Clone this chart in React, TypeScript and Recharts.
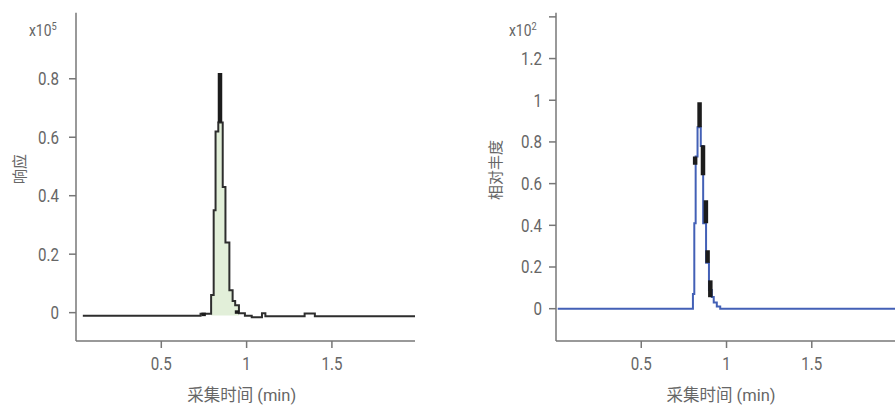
import React from 'react';
import { ComposedChart, Line, Area, XAxis, YAxis } from 'recharts';

// ---------- data ----------
const xTicks = [0.5, 1, 1.5];

// left panel: response (x10^5) vs acquisition time (min)
const leftTime = [0.04, 0.73, 0.77, 0.792, 0.807, 0.818, 0.834, 0.86, 0.876, 0.899, 0.918, 0.933, 0.955, 0.99, 1.03, 1.09, 1.11, 1.34, 1.40, 1.987];
const leftResponse = [-0.011, -0.004, -0.004, 0.06, 0.35, 0.62, 0.65, 0.43, 0.24, 0.077, 0.04, 0.025, -0.002, -0.011, -0.016, -0.002, -0.012, -0.003, -0.012, -0.012];
const leftMarkTime = [0.844, 0.748, 0.944];
const leftMarkLow = [0.65, -0.012, -0.004];
const leftMarkHigh = [0.82, 0.0, 0.008];
const leftYTicks = [0, 0.2, 0.4, 0.6, 0.8];

// right panel: relative abundance (x10^2) vs acquisition time (min)
const rightTime = [0.01, 0.803, 0.811, 0.819, 0.83, 0.849, 0.863, 0.88, 0.897, 0.914, 0.925, 0.943, 0.963, 1.988];
const rightAbundance = [0, 0.07, 0.41, 0.73, 0.87, 0.78, 0.41, 0.22, 0.09, 0.056, 0.03, 0.01, 0, 0];
const rightMarkTime = [0.842, 0.816, 0.862, 0.879, 0.889, 0.905];
const rightMarkLow = [0.87, 0.69, 0.64, 0.41, 0.22, 0.055];
const rightMarkHigh = [0.99, 0.73, 0.784, 0.52, 0.28, 0.136];
const rightYTicks = [0, 0.2, 0.4, 0.6, 0.8, 1, 1.2, 1.4];
const rightYTickLabels = ['0', '0.2', '0.4', '0.6', '0.8', '1', '1.2', ''];

// ---------- styles ----------
const NUM_FONT = "Roboto, 'Liberation Sans', sans-serif";
const CJK_FONT = "Roboto, 'Noto Sans CJK SC', sans-serif";
const TEXT = '#666666';
const AXIS = '#777777';
const SQUEEZE = 0.84;

const leftLine = leftTime.map((t, i) => ({ t, v: leftResponse[i] }));
const leftFill = leftLine.filter((d) => d.t >= 0.79 && d.t <= 0.956);
const rightLine = rightTime.map((t, i) => ({ t, v: rightAbundance[i] }));

const fmt = (v: number) => String(v);
const rightFmt = (v: number) => rightYTickLabels[rightYTicks.indexOf(v)] ?? '';

function makeTick(axis: 'x' | 'y', format: (v: number) => string) {
  return (props: any) => {
    const { x, y, payload } = props;
    const label = format(payload.value);
    return (
      <g transform={`translate(${x},${y}) scale(${SQUEEZE},1)`}>
        <text
          x={0}
          y={0}
          dy={axis === 'x' ? '0.71em' : '0.355em'}
          textAnchor={axis === 'x' ? 'middle' : 'end'}
          fontFamily={NUM_FONT}
          fontSize={18}
          fill={TEXT}
        >
          {label}
        </text>
      </g>
    );
  };
}

function marks(times: number[], lows: number[], highs: number[], prefix: string) {
  return times.map((t, i) => (
    <Line
      key={prefix + i}
      data={[{ t, v: lows[i] }, { t, v: highs[i] }]}
      dataKey="v"
      type="linear"
      stroke="#1c1c1c"
      strokeWidth={4.5}
      strokeLinecap="butt"
      dot={false}
      activeDot={false}
      isAnimationActive={false}
    />
  ));
}

export default function App() {
  return (
    <div style={{ position: 'absolute', left: 0, top: 0, width: 895, height: 407, background: '#fff', overflow: 'hidden' }}>
      <div style={{ position: 'absolute', left: 0, top: 0 }}>
        <ComposedChart width={430} height={407} margin={{ top: 12.7, right: 15, bottom: 0, left: 0 }}>
          <XAxis
            type="number"
            dataKey="t"
            domain={[0, 1.987]}
            ticks={xTicks}
            allowDataOverflow
            height={66}
            tickSize={7}
            tickMargin={9}
            tick={makeTick('x', fmt)}
            stroke={AXIS}
            strokeWidth={1.5}
          />
          <YAxis
            type="number"
            dataKey="v"
            domain={[-0.097, 1.026]}
            ticks={leftYTicks}
            allowDataOverflow
            width={76}
            tickSize={7}
            tickMargin={10}
            tick={makeTick('y', fmt)}
            stroke={AXIS}
            strokeWidth={1.5}
          />
          <Area
            data={leftFill}
            dataKey="v"
            type="stepAfter"
            fill="#e2efd9"
            fillOpacity={1}
            stroke="none"
            baseValue={-0.01}
            isAnimationActive={false}
          />
          <Line
            data={leftLine}
            dataKey="v"
            type="stepAfter"
            stroke="#2e2e2e"
            strokeWidth={2}
            dot={false}
            activeDot={false}
            isAnimationActive={false}
          />
          {marks(leftMarkTime, leftMarkLow, leftMarkHigh, 'l')}
        </ComposedChart>
      </div>
      <div style={{ position: 'absolute', left: 440, top: 0 }}>
        <ComposedChart width={455} height={407} margin={{ top: 12.7, right: 0, bottom: 0, left: 0 }}>
          <XAxis
            type="number"
            dataKey="t"
            domain={[0, 1.988]}
            ticks={xTicks}
            allowDataOverflow
            height={66}
            tickSize={7}
            tickMargin={9}
            tick={makeTick('x', fmt)}
            stroke={AXIS}
            strokeWidth={1.5}
          />
          <YAxis
            type="number"
            dataKey="v"
            domain={[-0.155, 1.42]}
            ticks={rightYTicks}
            allowDataOverflow
            width={116}
            tickSize={7}
            tickMargin={7}
            tick={makeTick('y', rightFmt)}
            stroke={AXIS}
            strokeWidth={1.5}
          />
          <Line
            data={rightLine}
            dataKey="v"
            type="stepAfter"
            stroke="#4360b6"
            strokeWidth={2}
            dot={false}
            activeDot={false}
            isAnimationActive={false}
          />
          {marks(rightMarkTime, rightMarkLow, rightMarkHigh, 'r')}
        </ComposedChart>
      </div>
      <svg width={895} height={407} style={{ position: 'absolute', left: 0, top: 0, pointerEvents: 'none' }}>
        <g transform={`translate(29,35.5) scale(${SQUEEZE},1)`}>
          <text x={0} y={0} fontFamily={NUM_FONT} fontSize={16.5} fill={TEXT}>
            x10<tspan fontSize={11} dy={-5.5}>5</tspan>
          </text>
        </g>
        <g transform={`translate(509,35.5) scale(${SQUEEZE},1)`}>
          <text x={0} y={0} fontFamily={NUM_FONT} fontSize={16.5} fill={TEXT}>
            x10<tspan fontSize={11} dy={-5.5}>2</tspan>
          </text>
        </g>
        <text
          x={19.5}
          y={169}
          transform="rotate(-90 19.5 169)"
          textAnchor="middle"
          dominantBaseline="central"
          fontFamily={CJK_FONT}
          fontSize={15}
          fill={TEXT}
        >
          响应
        </text>
        <text
          x={496}
          y={170}
          transform="rotate(-90 496 170)"
          textAnchor="middle"
          dominantBaseline="central"
          fontFamily={CJK_FONT}
          fontSize={15}
          fill={TEXT}
        >
          相对丰度
        </text>
        <text x={241.7} y={395.5} textAnchor="middle" dominantBaseline="central" fontFamily={CJK_FONT} fontSize={16.5} fill={TEXT}>
          采集时间 (min)
        </text>
        <text x={721} y={395.5} textAnchor="middle" dominantBaseline="central" fontFamily={CJK_FONT} fontSize={16.5} fill={TEXT}>
          采集时间 (min)
        </text>
      </svg>
    </div>
  );
}
